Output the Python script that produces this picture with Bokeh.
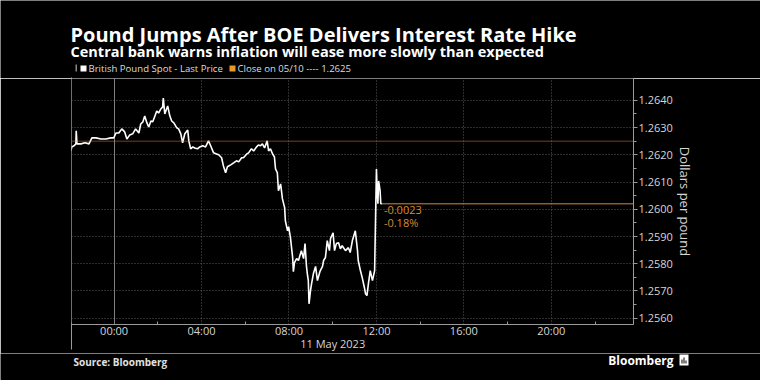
from bokeh.plotting import figure
from bokeh.models import Range1d, FixedTicker, Grid, Span, LinearAxis, ColumnDataSource, PrintfTickFormatter
from bokeh.core.properties import value
from bokeh.embed import file_html
from bokeh.resources import INLINE

# ---- data (times >= 20:00 belong to 10 May, the rest to 11 May) ----
times = ["22:01", "22:04", "22:10", "22:15", "22:16", "22:18", "22:29", "22:40", "22:51", "22:59",
         "23:10", "23:24", "23:37", "23:51", "23:59", "00:05", "00:13", "00:21", "00:29", "00:35",
         "00:43", "00:51", "00:59", "01:08", "01:13", "01:19", "01:24", "01:30", "01:35", "01:41",
         "01:46", "01:51", "01:57", "02:02", "02:08", "02:13", "02:15", "02:19", "02:24", "02:27",
         "02:33", "02:38", "02:44", "02:52", "02:57", "03:03", "03:08", "03:14", "03:22", "03:25",
         "03:30", "03:36", "03:41", "03:49", "03:55", "04:03", "04:11", "04:19", "04:25", "04:33",
         "04:41", "04:47", "04:55", "05:00", "05:06", "05:11", "05:20", "05:28", "05:36", "05:42",
         "05:50", "05:55", "06:04", "06:09", "06:17", "06:23", "06:31", "06:36", "06:42", "06:47",
         "06:53", "07:00", "07:04", "07:09", "07:15", "07:20", "07:23", "07:28", "07:31", "07:37",
         "07:42", "07:48", "07:50", "07:56", "07:59", "08:04", "08:07", "08:10", "08:12", "08:15",
         "08:21", "08:26", "08:29", "08:34", "08:40", "08:44", "08:48", "08:51", "08:53", "08:55",
         "08:59", "09:02", "09:07", "09:13", "09:18", "09:24", "09:26", "09:32", "09:35", "09:40",
         "09:45", "09:51", "09:54", "10:01", "10:05", "10:10", "10:16", "10:21", "10:26", "10:35",
         "10:43", "10:48", "10:54", "11:02", "11:08", "11:10", "11:16", "11:21", "11:27", "11:30",
         "11:34", "11:38", "11:43", "11:49", "11:55", "12:00", "12:02", "12:04", "12:06", "12:10",
         "12:12", "12:15"]
prices = [1.26214, 1.26229, 1.26233, 1.26240, 1.26288, 1.26240, 1.26240, 1.26244, 1.26240, 1.26262,
          1.26262, 1.26258, 1.26258, 1.26262, 1.26262, 1.26280, 1.26280, 1.26295, 1.26284, 1.26258,
          1.26273, 1.26277, 1.26295, 1.26280, 1.26313, 1.26321, 1.26342, 1.26317, 1.26302, 1.26324,
          1.26321, 1.26339, 1.26361, 1.26353, 1.26368, 1.26375, 1.26408, 1.26350, 1.26368, 1.26379,
          1.26342, 1.26324, 1.26317, 1.26299, 1.26295, 1.26277, 1.26244, 1.26277, 1.26291, 1.26251,
          1.26222, 1.26229, 1.26225, 1.26222, 1.26229, 1.26233, 1.26229, 1.26251, 1.26233, 1.26207,
          1.26203, 1.26200, 1.26189, 1.26159, 1.26134, 1.26156, 1.26163, 1.26170, 1.26178, 1.26174,
          1.26189, 1.26189, 1.26203, 1.26207, 1.26222, 1.26214, 1.26229, 1.26236, 1.26233, 1.26240,
          1.26225, 1.26251, 1.26214, 1.26222, 1.26203, 1.26192, 1.26148, 1.26134, 1.26068, 1.26093,
          1.26038, 1.26006, 1.25958, 1.25921, 1.25936, 1.25896, 1.25859, 1.25823, 1.25771, 1.25804,
          1.25819, 1.25812, 1.25826, 1.25848, 1.25819, 1.25874, 1.25790, 1.25756, 1.25738, 1.25653,
          1.25701, 1.25727, 1.25764, 1.25790, 1.25738, 1.25767, 1.25775, 1.25790, 1.25812, 1.25823,
          1.25885, 1.25848, 1.25892, 1.25914, 1.25848, 1.25874, 1.25877, 1.25855, 1.25866, 1.25848,
          1.25859, 1.25841, 1.25885, 1.25921, 1.25848, 1.25812, 1.25775, 1.25749, 1.25712, 1.25690,
          1.25683, 1.25727, 1.25775, 1.25738, 1.25775, 1.26148, 1.26068, 1.26020, 1.26104, 1.26068,
          1.26020, 1.26020]

x_tick_hours = [0, 4, 8, 12, 16, 20]
x_tick_labels = ["00:00", "04:00", "08:00", "12:00", "16:00", "20:00"]
x_minor_hours = [2, 6, 10, 14, 18, 22]
y_ticks = [1.2560, 1.2570, 1.2580, 1.2590, 1.2600, 1.2610, 1.2620, 1.2630, 1.2640]
prev_close = 1.2625
change_abs = "-0.0023"
change_pct = "-0.18%"
date_label = "11 May 2023"
date_label_hour = 10
title = "Pound Jumps After BOE Delivers Interest Rate Hike"
subtitle = "Central bank warns inflation will ease more slowly than expected"
legend_items = ["British Pound Spot - Last Price", "Close on 05/10 ---- 1.2625"]
source_text = "Source: Bloomberg"
brand = "Bloomberg"


def to_hours(t):
    hh, mm = t.split(":")
    h = int(hh) + int(mm) / 60.0
    return h - 24 if int(hh) >= 20 else h


xs = [to_hours(t) for t in times]
src = ColumnDataSource(dict(x=xs, y=prices))

FONT = "Open Sans"
GRID = "#5c5c5c"
AXIS = "#9a9a9a"
ORANGE = "#d48a3a"
TICK_TXT = "#d6d6d6"
X_START, X_END = -1.95, 23.76
Y_START, Y_END = 1.25577, 1.26480
HEAD_H, MAIN_BOTTOM = 78, 26
MAIN_H = 246 + MAIN_BOTTOM
FOOT_TOP = HEAD_H + MAIN_H


def blank(height, top, bottom):
    # y coordinates of these strips are page pixels (flipped range)
    f = figure(width=760, height=height, x_range=Range1d(0, 760), y_range=Range1d(bottom, top),
               output_backend="svg", toolbar_location=None, x_axis_type=None, y_axis_type=None,
               background_fill_color="black", border_fill_color="black", outline_line_color=None,
               min_border=0, title=None)
    return f


# ---------- header ----------
head = blank(HEAD_H, 0, HEAD_H)
head.text(x=[70], y=[34], text=[title], text_color="white", text_font=value(FONT),
          text_font_size="20px", text_font_style="bold", text_baseline="alphabetic")
head.text(x=[70], y=[51], text=[subtitle], text_color="white", text_font=value(FONT),
          text_font_size="14.5px", text_font_style="bold", text_baseline="alphabetic")
head.quad(left=[75], right=[76.5], top=[64], bottom=[71], fill_color="#888888", line_color=None)
head.quad(left=[80, 229], right=[86, 235], top=[65, 65], bottom=[71, 71],
          fill_color=["white", "#e89a2a"], line_color=None)
head.text(x=[88, 237], y=[68, 68], text=legend_items, text_color="#dddddd", text_font=value(FONT),
          text_font_size="9.6px", text_baseline="middle")
# left separator line starts at the top of the chart area
head.quad(left=[70.5], right=[71.5], top=[77], bottom=[78], fill_color=AXIS, line_color=None)

# ---------- main chart ----------
p = figure(frame_width=562, frame_height=246, output_backend="svg", toolbar_location=None,
           x_range=Range1d(X_START, X_END), y_range=Range1d(Y_START, Y_END),
           y_axis_location="right", background_fill_color="black", border_fill_color="black",
           outline_line_color=None, min_border_left=71, min_border_right=127,
           min_border_top=0, min_border_bottom=MAIN_BOTTOM, title=None)

p.xgrid.ticker = FixedTicker(ticks=[h for h in x_tick_hours if h != 0])
p.xgrid.grid_line_color = GRID
p.xgrid.grid_line_dash = "1 2"
p.ygrid.ticker = FixedTicker(ticks=y_ticks)
p.ygrid.grid_line_color = GRID
p.ygrid.grid_line_dash = "1 2"
# solid day boundary at 00:00 and the frame's left edge line
p.add_layout(Grid(dimension=0, ticker=FixedTicker(ticks=[0]), grid_line_color="#808080"))
p.add_layout(Grid(dimension=0, ticker=FixedTicker(ticks=[X_START + 0.02]), grid_line_color=AXIS))
# previous close, dotted orange
p.add_layout(Span(location=prev_close, dimension="width", line_color=ORANGE, line_dash="1 1", line_width=1))

xa = p.xaxis[0]
xa.ticker = FixedTicker(ticks=x_tick_hours, minor_ticks=x_minor_hours)
xa.major_label_overrides = {h: l for h, l in zip(x_tick_hours, x_tick_labels)}
xa.major_tick_out = 0
xa.major_tick_in = 0
xa.minor_tick_in = 3
xa.minor_tick_out = 0
xa.minor_tick_line_color = AXIS
xa.axis_line_color = AXIS
xa.major_label_text_color = TICK_TXT
xa.major_label_text_font = FONT
xa.major_label_text_font_size = "11px"
xa.major_label_standoff = -2

ax2 = LinearAxis(ticker=FixedTicker(ticks=[date_label_hour], minor_ticks=[X_START + 0.02]),
                 major_label_overrides={date_label_hour: date_label},
                 axis_line_color=None, major_tick_line_color=None, minor_tick_line_color=AXIS,
                 minor_tick_in=18, minor_tick_out=9, major_tick_in=0, major_tick_out=0,
                 major_label_standoff=-14, major_label_text_color=TICK_TXT,
                 major_label_text_font=FONT, major_label_text_font_size="11px")
p.add_layout(ax2, "below")

ya = p.yaxis[0]
ya.ticker = FixedTicker(ticks=y_ticks, minor_ticks=[(a + b) / 2 for a, b in zip(y_ticks[:-1], y_ticks[1:])])
ya.formatter = PrintfTickFormatter(format="%.4f")
ya.major_tick_out = 4
ya.major_tick_in = 0
ya.minor_tick_out = 3
ya.minor_tick_in = 0
ya.major_tick_line_color = AXIS
ya.minor_tick_line_color = AXIS
ya.axis_line_color = AXIS
ya.major_label_text_color = TICK_TXT
ya.major_label_text_font = FONT
ya.major_label_text_font_size = "11px"
ya.major_label_standoff = 1
ya.axis_label = "Dollars per pound"
ya.axis_label_text_font = FONT
ya.axis_label_text_font_size = "13px"
ya.axis_label_text_font_style = "normal"
ya.axis_label_text_color = TICK_TXT
ya.axis_label_standoff = 0

p.ray(x=[xs[-1]], y=[prices[-1]], length=0, angle=0, line_color=ORANGE, line_width=1)
p.line("x", "y", source=src, line_color="white", line_width=1.6)
p.text(x=[xs[-1], xs[-1]], y=[prices[-1], prices[-1]], text=[change_abs, change_pct],
       x_offset=[2, 2], y_offset=[6, 19], text_color=ORANGE, text_font=value(FONT),
       text_font_size="11px", text_baseline="middle", text_align="left")

# ---------- footer ----------
foot = blank(380 - FOOT_TOP, FOOT_TOP, 380)
foot.quad(left=[70.5], right=[71.5], top=[FOOT_TOP], bottom=[350], fill_color=AXIS, line_color=None)
foot.text(x=[73], y=[358], text=[source_text], text_color="#e0e0e0", text_font=value(FONT),
          text_font_size="10px", text_font_style="bold", text_baseline="middle")
foot.text(x=[673], y=[357], text=[brand], text_color="white", text_font=value(FONT),
          text_font_size="12px", text_font_style="bold", text_baseline="middle", text_align="right")
foot.quad(left=[679], right=[688], top=[351], bottom=[362], fill_color="white", line_color=None)
foot.quad(left=[681, 683, 685], right=[682, 684, 686], top=[356, 354, 357], bottom=[360, 360, 360],
          fill_color="black", line_color=None)

open("out.html", "w").write(file_html([head, p, foot], INLINE))
